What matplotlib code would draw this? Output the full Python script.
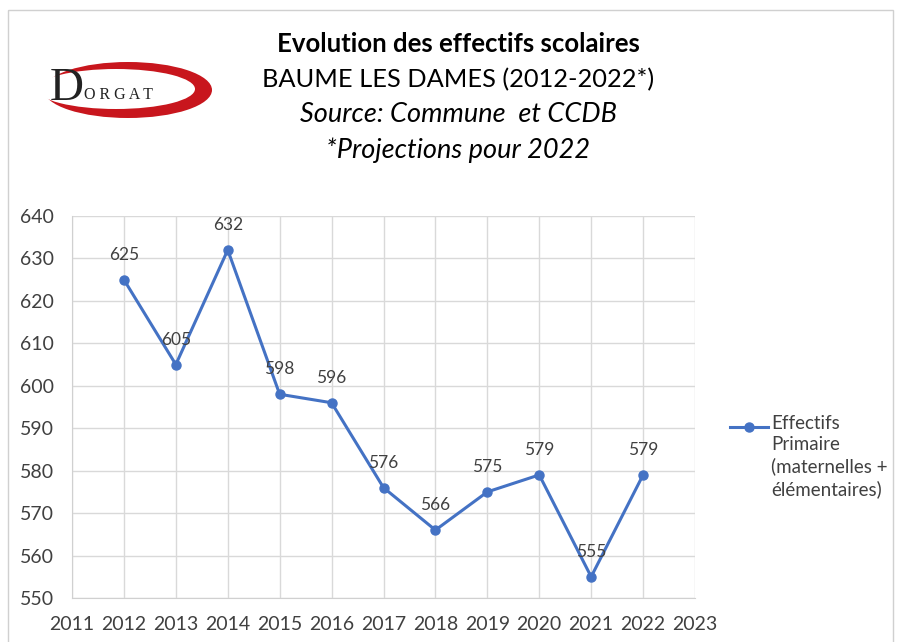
import matplotlib
matplotlib.use('Agg')

import matplotlib.pyplot as plt
from matplotlib.patches import Ellipse, Rectangle

plt.rcParams['font.family'] = ['Lato', 'DejaVu Sans']

# Data
years = [2012, 2013, 2014, 2015, 2016, 2017, 2018, 2019, 2020, 2021, 2022]
effectifs = [625, 605, 632, 598, 596, 576, 566, 575, 579, 555, 579]
series_label = "Effectifs\nPrimaire\n(maternelles +\nélémentaires)"
title_lines = ["Evolution des effectifs scolaires",
               "BAUME LES DAMES (2012-2022*)",
               "Source: Commune  et CCDB",
               "*Projections pour 2022"]

W, H = 899, 642
line_color = '#4472C4'
text_color = '#404040'

fig = plt.figure(figsize=(W / 100, H / 100), dpi=100)

# overlay in pixel coordinates for frame, logo, titles and legend
bg = fig.add_axes([0, 0, 1, 1])
bg.set_xlim(0, W)
bg.set_ylim(H, 0)
bg.axis('off')
bg.add_patch(Rectangle((8, 10), 885, 640, fill=False, edgecolor='#d0d0d0', lw=1))

# logo
bg.add_patch(Ellipse((128, 90), 168, 56, facecolor='#c8161d', edgecolor='none'))
bg.add_patch(Ellipse((116, 89), 158, 40, facecolor='white', edgecolor='none'))
bg.text(50, 89, "D", fontsize=34, family='Liberation Serif', color='#222222',
        va='center', ha='left')
bg.text(84, 95, "O R G A T", fontsize=11.5, family='Liberation Serif', color='#222222',
        va='center', ha='left')

# titles
bg.text(458, 44, title_lines[0], fontsize=18.5, fontweight='bold', ha='center', va='center')
bg.text(458, 80, title_lines[1], fontsize=18.3, ha='center', va='center')
bg.text(458, 115, title_lines[2], fontsize=19.5, style='italic', ha='center', va='center')
bg.text(458, 150, title_lines[3], fontsize=19.5, style='italic', ha='center', va='center')

# main chart
ax = fig.add_axes([72 / W, 1 - 598 / H, (695 - 72) / W, (598 - 216) / H])
ax.plot(years, effectifs, color=line_color, lw=2.2, marker='o', markersize=6.5)
for x, y in zip(years, effectifs):
    ax.annotate(str(y), (x, y), xytext=(0, 18), textcoords='offset points',
                ha='center', va='center', fontsize=12.5, color=text_color)

ax.set_xlim(2011, 2023)
ax.set_ylim(550, 640)
ax.set_xticks(range(2011, 2024))
ax.set_yticks(range(550, 641, 10))
ax.tick_params(length=0, labelsize=14, colors=text_color, pad=13)
ax.grid(True, color='#d9d9d9', lw=1)
ax.set_axisbelow(True)
for s in ['top', 'right']:
    ax.spines[s].set_visible(False)
for s in ['left', 'bottom']:
    ax.spines[s].set_color('#d0d0d0')

# legend entry
bg.plot([730, 768], [427, 427], color=line_color, lw=2.2)
bg.plot([749], [427], color=line_color, marker='o', markersize=6.5)
bg.text(771, 415, series_label, fontsize=13.5, color=text_color,
        ha='left', va='top', linespacing=1.3)

fig.savefig('out.png', dpi=100)
